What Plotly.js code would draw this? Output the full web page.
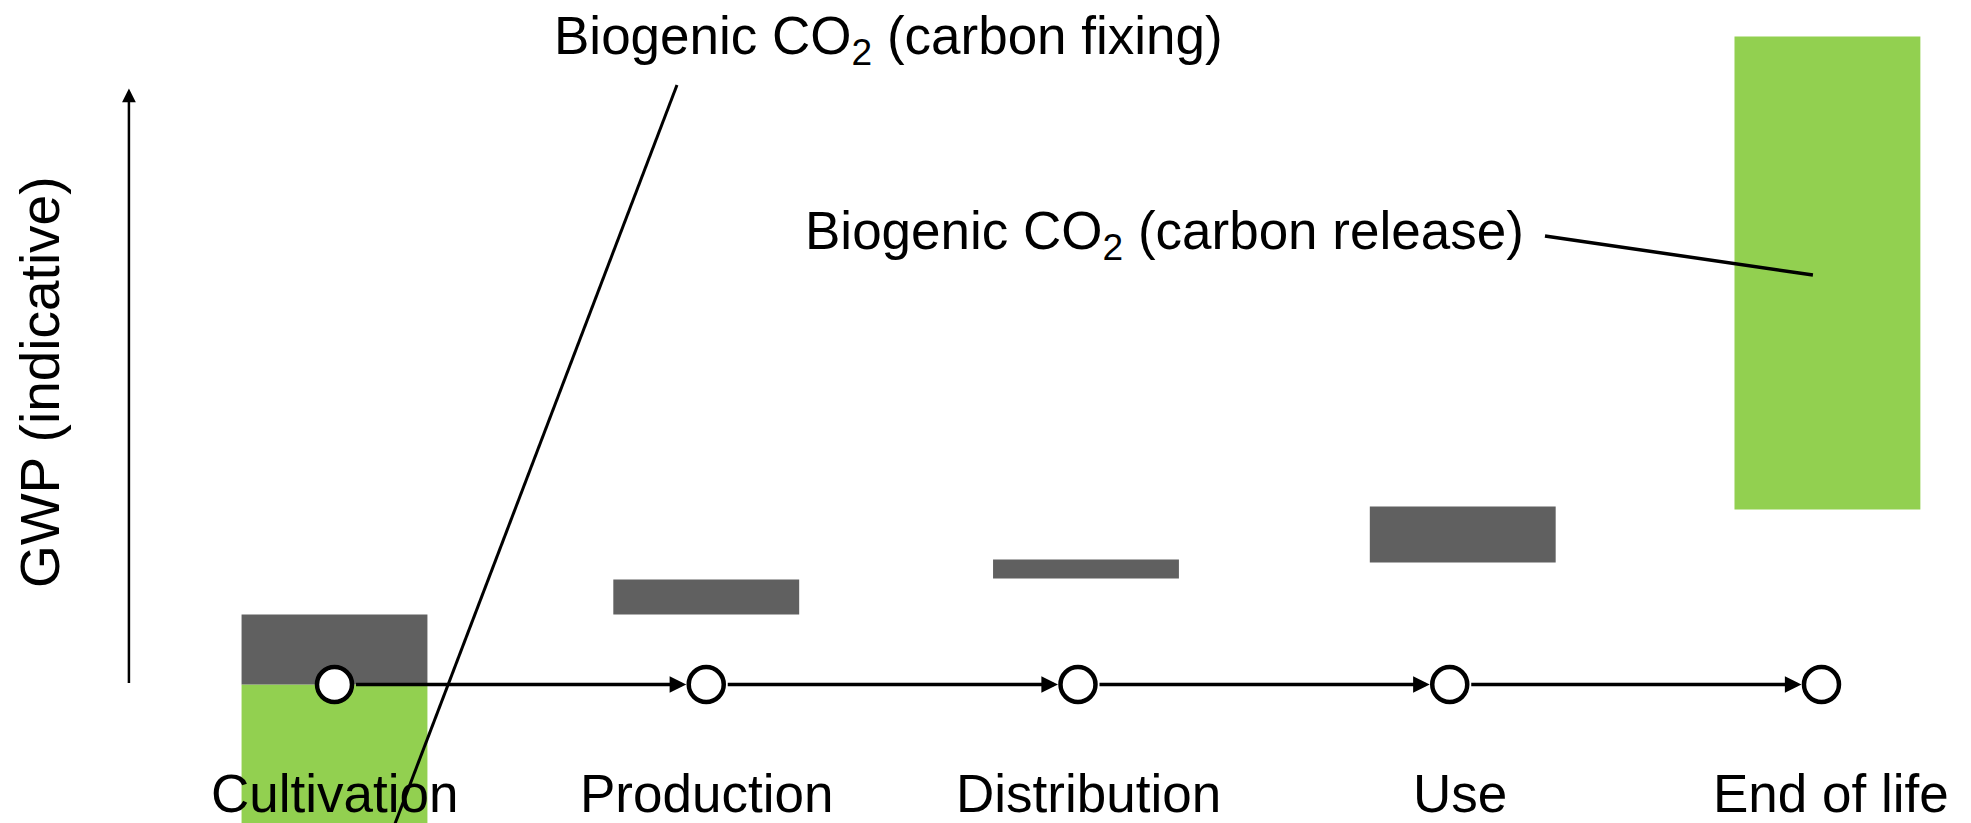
<!DOCTYPE html>
<html>
<head>
<meta charset="utf-8">
<script src="https://cdn.plot.ly/plotly-3.0.1.min.js"></script>
<style>html,body{margin:0;padding:0;background:#fff;}#chart{width:1971px;height:823px;}</style>
</head>
<body>
<div id="chart"></div>
<script>
// Life-cycle stages
const stages = ["Cultivation", "Production", "Distribution", "Use", "End of life"];
// Fossil / process GWP contributions (indicative units): floating bars
const fossilStages = ["Cultivation", "Production", "Distribution", "Use"];
const fossilBase = [0, 7.0, 10.6, 12.2];
const fossilValue = [7.0, 3.5, 1.9, 5.6];
// Biogenic CO2: fixing (negative) at cultivation, release at end of life
const bioStages = ["Cultivation", "End of life"];
const bioBase = [0, 17.5];
const bioValue = [-47.3, 47.3];
// Stage markers on the baseline
const stageLevel = [0, 0, 0, 0, 0];

const FONT = "Liberation Sans, Arial, Helvetica, sans-serif";
const idx = stages.map((s, i) => i);
const labelShift = [0, 0, 11, 10, 10];

const traces = [
  {
    type: "bar", x: bioStages, y: bioValue, base: bioBase, width: 0.5,
    offset: [-0.25, -0.234],
    marker: {color: "#92D050"}, hoverinfo: "skip", showlegend: false
  },
  {
    type: "bar", x: fossilStages, y: fossilValue, base: fossilBase, width: 0.5,
    offset: [-0.25, -0.25, -0.2285, -0.215],
    marker: {color: "#606060"}, hoverinfo: "skip", showlegend: false
  },
  {
    type: "scatter", mode: "markers", x: stages, y: stageLevel,
    marker: {symbol: "circle", size: 35, color: "#ffffff", line: {color: "#000000", width: 4.5}},
    hoverinfo: "skip", showlegend: false, cliponaxis: false
  }
];

const annotations = [];
// arrows between successive stages
for (let i = 1; i < stages.length; i++) {
  annotations.push({
    x: idx[i], y: stageLevel[i], ax: idx[i - 1], ay: stageLevel[i - 1],
    xref: "x", yref: "y", axref: "x", ayref: "y",
    text: "", showarrow: true, arrowhead: 2, arrowsize: 0.95, arrowwidth: 3.5,
    arrowcolor: "#000000", standoff: 20, startstandoff: 20
  });
}
// stage labels
stages.forEach((s, i) => {
  annotations.push({
    x: s, y: -10.9, xref: "x", yref: "y", text: s, showarrow: false,
    xshift: labelShift[i], xanchor: "center", yanchor: "middle",
    font: {family: FONT, size: 53, color: "#000000"}
  });
});
// vertical GWP arrow
annotations.push({
  x: -0.553, y: 59.6, ax: -0.553, ay: 0,
  xref: "x", yref: "y", axref: "x", ayref: "y",
  text: "", showarrow: true, arrowhead: 2, arrowsize: 1.1, arrowwidth: 2.5, arrowcolor: "#000000"
});
// y title
annotations.push({
  x: -0.792, y: 30.25, xref: "x", yref: "y", text: "GWP (indicative)", textangle: -90,
  showarrow: false, font: {family: FONT, size: 55, color: "#000000"}, xanchor: "center", yanchor: "middle"
});
// labels
annotations.push({
  x: 1.4916, y: 64.5, xref: "x", yref: "y", text: "Biogenic CO<sub>2</sub> (carbon fixing)",
  showarrow: false, font: {family: FONT, size: 53, color: "#000000"}, xanchor: "center", yanchor: "middle"
});
annotations.push({
  x: 2.234, y: 45.0, xref: "x", yref: "y", text: "Biogenic CO<sub>2</sub> (carbon release)",
  showarrow: false, font: {family: FONT, size: 53, color: "#000000"}, xanchor: "center", yanchor: "middle"
});

const shapes = [
  {type: "line", xref: "x", yref: "y", x0: 0.9213, y0: 59.95, x1: 0.1358, y1: -16.55,
   line: {color: "#000000", width: 3}, layer: "above"},
  {type: "line", xref: "x", yref: "y", x0: 3.2562, y0: 44.85, x1: 3.977, y1: 40.95,
   line: {color: "#000000", width: 3.5}, layer: "above"}
];

const layout = {
  width: 1971, height: 823,
  margin: {l: 0, r: 0, t: 0, b: 0, pad: 0},
  paper_bgcolor: "#ffffff", plot_bgcolor: "#ffffff",
  barmode: "overlay",
  showlegend: false,
  xaxis: {
    type: "category", categoryorder: "array", categoryarray: stages,
    range: [-0.8998, 4.4022], showgrid: false, zeroline: false, showline: false,
    ticks: "", showticklabels: false
  },
  yaxis: {
    range: [-13.85, 68.45], showgrid: false, zeroline: false, showline: false,
    showticklabels: false, ticks: ""
  },
  annotations: annotations,
  shapes: shapes,
  font: {family: FONT}
};

Plotly.newPlot("chart", traces, layout, {staticPlot: true, displayModeBar: false});
</script>
</body>
</html>
